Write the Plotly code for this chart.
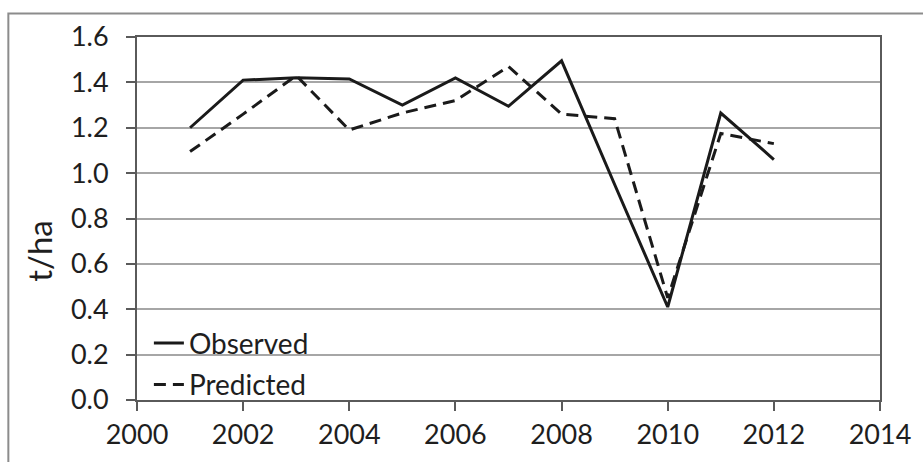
import plotly.graph_objects as go

# Yield per season, observed vs. model prediction (t/ha)
years = [2001, 2002, 2003, 2004, 2005, 2006, 2007, 2008, 2009, 2010, 2011, 2012]
observed = [1.20, 1.41, 1.42, 1.415, 1.30, 1.42, 1.295, 1.495, 0.95, 0.41, 1.265, 1.06]
predicted = [1.095, 1.26, 1.43, 1.19, 1.265, 1.32, 1.47, 1.26, 1.24, 0.45, 1.175, 1.13]

x_ticks = [2000, 2002, 2004, 2006, 2008, 2010, 2012, 2014]
y_ticks = [0.0, 0.2, 0.4, 0.6, 0.8, 1.0, 1.2, 1.4, 1.6]

FONT = "Lato, 'Open Sans', sans-serif"
INK = "#1a1a1a"

fig = go.Figure()
fig.add_trace(go.Scatter(
    x=years, y=observed, name="Observed", mode="lines",
    line=dict(color=INK, width=3), legendgroup="obs",
))
fig.add_trace(go.Scatter(
    x=years, y=predicted, name="Predicted", mode="lines",
    line=dict(color=INK, width=3, dash="12px,7px"), legendgroup="pred",
))

axis_common = dict(
    showline=True, linecolor="#5a5a5a", linewidth=2, mirror=True,
    ticks="outside", ticklen=9, tickwidth=2, tickcolor="#5a5a5a",
    tickfont=dict(family=FONT, size=27, color="#1e1e1e"),
    zeroline=False,
)

fig.update_layout(
    width=923, height=462,
    margin=dict(l=137, r=41, t=37, b=54),
    paper_bgcolor="white", plot_bgcolor="white",
    font=dict(family=FONT, color="#1e1e1e"),
    xaxis=dict(range=[2000, 2014], tickvals=x_ticks, showgrid=False,
               ticklabelstandoff=1, **axis_common),
    yaxis=dict(range=[0, 1.6], tickvals=y_ticks, tickformat=".1f",
               showgrid=True, gridcolor="#a6a6a6", gridwidth=2,
               ticklabelstandoff=12, **axis_common),
    showlegend=True,
    legend=dict(x=0.016, y=0.225, xanchor="left", yanchor="top",
                bgcolor="rgba(0,0,0,0)", borderwidth=0,
                font=dict(family=FONT, size=28, color="#1e1e1e"),
                tracegroupgap=2),
    annotations=[dict(
        text="t/ha", textangle=-90, xref="paper", yref="paper",
        x=-0.131, y=0.41, xanchor="center", yanchor="middle",
        showarrow=False, font=dict(family=FONT, size=33, color="#1e1e1e"),
    )],
    shapes=[dict(
        type="rect", xref="paper", yref="paper",
        x0=(8 - 137) / 745, x1=(930 - 137) / 745,
        y0=-0.3, y1=(408 - 13) / 371,
        line=dict(color="#8c8c8c", width=2), layer="below",
    )],
)

fig.write_html("out.html")
